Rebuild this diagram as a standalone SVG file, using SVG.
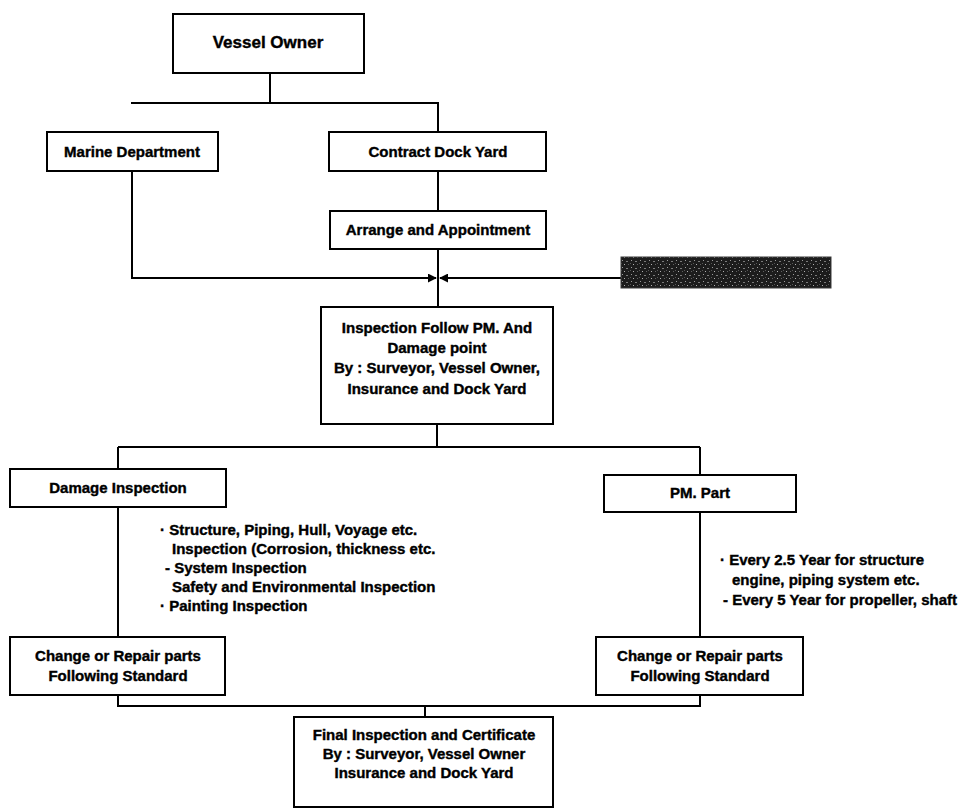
<svg xmlns="http://www.w3.org/2000/svg" width="961" height="811" viewBox="0 0 961 811">
  <style>
    .box { fill: #ffffff; stroke: #000000; stroke-width: 2; }
    .lbl { font-family: "Liberation Sans", Arial, sans-serif; font-weight: bold; font-size: 15px; fill: #000000; stroke: #000000; stroke-width: 0.4; text-anchor: middle; }
    .big { font-size: 17px; }
    .note { font-family: "Liberation Sans", Arial, sans-serif; font-weight: bold; font-size: 15px; fill: #000000; stroke: #000000; stroke-width: 0.4; }
    .wire { fill: none; stroke: #000000; stroke-width: 2; }
  </style>
  <defs>
    <marker id="arrow" viewBox="0 0 10 10" refX="9" refY="5" markerWidth="4.5" markerHeight="4.5" orient="auto" markerUnits="strokeWidth">
      <path d="M0,0 L10,5 L0,10 z" fill="#000000"/>
    </marker>
    <!-- speckled dark fill for the masked panel -->
    <pattern id="speckle" width="9" height="7" patternUnits="userSpaceOnUse">
      <rect width="9" height="7" fill="#1c1c1c"/>
      <rect x="1" y="1" width="1" height="1" fill="#9a9a9a"/>
      <rect x="5" y="2" width="2" height="1" fill="#7a7a7a"/>
      <rect x="3" y="5" width="1" height="1" fill="#b0b0b0"/>
      <rect x="7" y="5" width="1" height="1" fill="#606060"/>
      <rect x="0" y="4" width="1" height="1" fill="#555555"/>
    </pattern>
  </defs>

  <rect width="961" height="811" fill="#ffffff"/>

  <!-- connectors -->
  <g id="connectors">
    <path class="wire" d="M270,73 V103 M131,103 H438 V132"/>
    <path class="wire" d="M438,171 V211"/>
    <path class="wire" d="M438,249 V307"/>
    <path class="wire" d="M132,171 V278 H436" marker-end="url(#arrow)"/>
    <path class="wire" d="M621,278 H440" marker-end="url(#arrow)"/>
    <path class="wire" d="M437,424 V447 M118,447 H700"/>
    <path class="wire" d="M118,447 V469"/>
    <path class="wire" d="M700,447 V475"/>
    <path class="wire" d="M118,507 V637"/>
    <path class="wire" d="M700,512 V637"/>
    <path class="wire" d="M118,695 V706 H700 V695"/>
    <path class="wire" d="M425,706 V717"/>
  </g>

  <g id="vessel-owner">
    <rect class="box" x="173" y="14" width="191" height="59"/>
    <text class="lbl big" x="268" y="48">Vessel Owner</text>
  </g>

  <g id="marine-department">
    <rect class="box" x="47" y="132" width="171" height="39"/>
    <text class="lbl" x="132" y="157">Marine Department</text>
  </g>

  <g id="contract-dock-yard">
    <rect class="box" x="329" y="132" width="217" height="39"/>
    <text class="lbl" x="438" y="157">Contract Dock Yard</text>
  </g>

  <g id="arrange-appointment">
    <rect class="box" x="330" y="211" width="216" height="38"/>
    <text class="lbl" x="438" y="235">Arrange and Appointment</text>
  </g>

  <g id="masked-panel">
    <rect x="621" y="257" width="210" height="31" fill="url(#speckle)" stroke="#3a3a3a" stroke-width="1"/>
  </g>

  <g id="inspection">
    <rect class="box" x="321" y="307" width="232" height="117"/>
    <text class="lbl" x="437" y="333">Inspection Follow PM. And</text>
    <text class="lbl" x="437" y="353">Damage point</text>
    <text class="lbl" x="437" y="373">By : Surveyor, Vessel Owner,</text>
    <text class="lbl" x="437" y="394">Insurance and Dock Yard</text>
  </g>

  <g id="damage-inspection">
    <rect class="box" x="10" y="469" width="216" height="38"/>
    <text class="lbl" x="118" y="493">Damage Inspection</text>
  </g>

  <g id="damage-notes">
    <text class="note" x="160" y="535">·  Structure, Piping, Hull, Voyage etc.</text>
    <text class="note" x="172" y="554">Inspection (Corrosion, thickness etc.</text>
    <text class="note" x="165" y="573">- System  Inspection</text>
    <text class="note" x="172" y="592">Safety and Environmental Inspection</text>
    <text class="note" x="160" y="611">·  Painting  Inspection</text>
  </g>

  <g id="pm-part">
    <rect class="box" x="604" y="475" width="192" height="37"/>
    <text class="lbl" x="700" y="498">PM. Part</text>
  </g>

  <g id="pm-notes">
    <text class="note" x="720" y="565">·  Every 2.5 Year for structure</text>
    <text class="note" x="732" y="585">engine, piping system etc.</text>
    <text class="note" x="723" y="605">- Every 5 Year for propeller, shaft</text>
  </g>

  <g id="repair-left">
    <rect class="box" x="10" y="637" width="215" height="58"/>
    <text class="lbl" x="118" y="661">Change or Repair parts</text>
    <text class="lbl" x="118" y="681">Following Standard</text>
  </g>

  <g id="repair-right">
    <rect class="box" x="596" y="637" width="207" height="58"/>
    <text class="lbl" x="700" y="661">Change or Repair parts</text>
    <text class="lbl" x="700" y="681">Following Standard</text>
  </g>

  <g id="final-inspection">
    <rect class="box" x="294" y="717" width="259" height="90"/>
    <text class="lbl" x="424" y="740">Final Inspection and Certificate</text>
    <text class="lbl" x="424" y="759">By : Surveyor, Vessel Owner</text>
    <text class="lbl" x="424" y="778">Insurance and  Dock Yard</text>
  </g>
</svg>
